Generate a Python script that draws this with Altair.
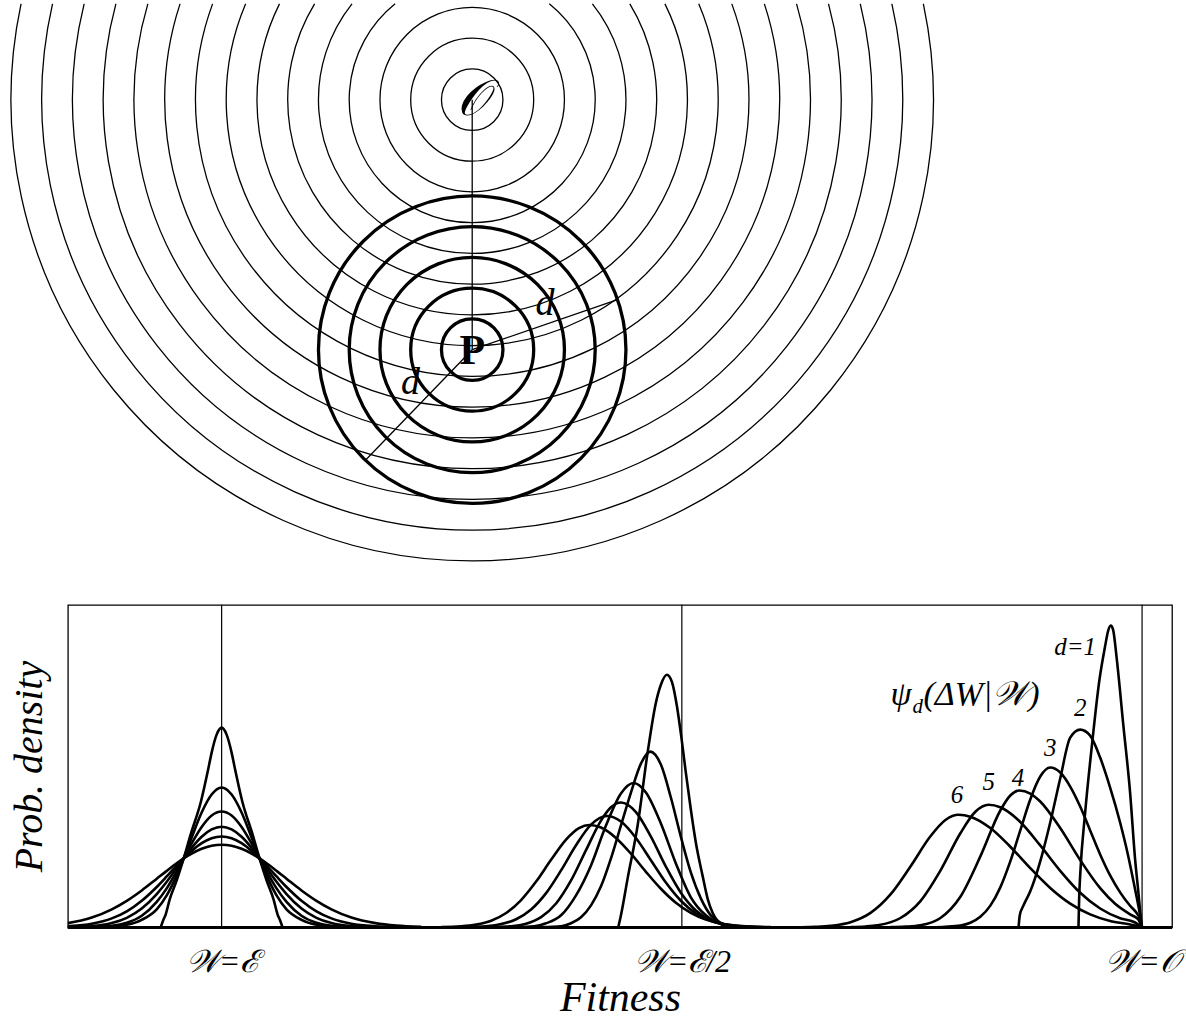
import altair as alt
import pandas as pd

# ---------------- top diagram data (units = one mutational step) ----------------
O_RING_LEVELS = list(range(1, 16))      # thin contours around the optimum O
P_RING_LEVELS = list(range(1, 6))       # thick circles of mutational distance d around P
O_POS = [0.0, 0.0]
P_POS = [0.0, -8.13]
D_LINE_ANGLES = [19, 226]               # degrees, the two "d" radii
D_LINE_LENGTH = 5
D_LABEL_X = [2.37, -2.01]
D_LABEL_Y = [-6.64, -9.20]

# ---------------- bottom chart data (fitness units; W=E at 0, W=E/2 at 461, W=O at 922) ----------------
TICK_VALUES = [0, 461, 922]
TICK_LABELS = ["𝒲=ℰ", "𝒲=ℰ/2", "𝒲=𝒪"]

# group W=E (symmetric)
E_d1_x = [-61, -58.5, -56, -52, -45, -38, -31, -20.7, -13.3, -10, -5, 0, 5, 10, 13.3, 20.7, 31, 38, 45, 52, 56, 58.5, 61]
E_d1_h = [0, 7, 13, 28, 47, 69, 93, 126, 159, 175, 193, 200, 193, 175, 159, 126, 93, 69, 47, 28, 13, 7, 0]
E_x = [-200, -175, -154, -130, -110, -95, -80, -65, -55, -45, -38, -30, -20, -10, 0,
       10, 20, 30, 38, 45, 55, 65, 80, 95, 110, 130, 154, 175, 200]
E_d2_h = [0, 0, 0, 0.2, 0.8, 2.5, 7.5, 18, 32, 52, 69, 90, 115, 133, 140, 133, 115, 90, 69, 52, 32, 18, 7.5, 2.5, 0.8, 0.2, 0, 0, 0]
E_d3_h = [0, 0, 0.1, 0.4, 1.5, 4.5, 11.6, 25.5, 39, 56, 69, 84, 100.5, 112, 116, 112, 100.5, 84, 69, 56, 39, 25.5, 11.6, 4.5, 1.5, 0.4, 0.1, 0, 0]
E_d4_h = [0, 0, 0.2, 1.2, 4.2, 9.5, 18.8, 33.3, 45.6, 59.3, 69, 79.6, 90.7, 98, 100.7, 98, 90.7, 79.6, 69, 59.3, 45.6, 33.3, 18.8, 9.5, 4.2, 1.2, 0.2, 0, 0]
E_d5_h = [0, 0.3, 1, 3.5, 8.9, 16, 26.6, 40.4, 50.9, 61.7, 69, 76.5, 84.3, 89.3, 91, 89.3, 84.3, 76.5, 69, 61.7, 50.9, 40.4, 26.6, 16, 8.9, 3.5, 1, 0.3, 0]
E_d6_h = [0.5, 1.7, 4.2, 9.8, 18, 26.5, 36.9, 48.6, 56.5, 64.1, 69, 73.8, 78.6, 81.7, 82.7, 81.7, 78.6, 73.8, 69, 64.1, 56.5, 48.6, 36.9, 26.5, 18, 9.8, 4.2, 1.7, 0.5]

# group W=E/2 (skewed)
H_d1_x = [397.3, 400, 406.7, 416.7, 426.7, 435, 440, 446, 451, 456, 460.7, 465, 470, 475, 481.7, 487, 492, 498, 505, 515]
H_d1_h = [0, 12, 49, 102, 175, 225, 243, 253, 246, 222, 189, 155, 118, 85, 52, 28, 14, 5, 1, 0]
H_d2_x = [300, 320, 340, 350, 360, 370, 380, 390, 400, 410, 420, 429.3, 440, 450, 460.7, 470, 480, 490, 500, 510, 525, 545]
H_d2_h = [0, 0.2, 1, 4, 10, 22, 41, 69, 102, 135, 164, 176, 163, 130, 88, 55, 29, 12, 4.5, 1.5, 0.3, 0]
H_d3_x = [275, 295, 313, 325, 340, 355, 370, 385, 400, 412.7, 425, 440, 455, 470, 485, 500, 515, 530, 545]
H_d3_h = [0, 0.2, 1, 4, 12, 32, 62, 102, 134, 144.5, 135, 104, 64, 30, 12, 3.5, 0.8, 0.1, 0]
H_d4_x = [250, 270, 290, 305, 320, 335, 350, 365, 380, 390, 400, 415, 430, 445, 460, 475, 490, 505, 520, 540]
H_d4_h = [0, 0.3, 1.1, 3.6, 10.2, 23.8, 46.9, 77.3, 106.9, 120.2, 125, 115.4, 90.8, 60.8, 34.7, 16.9, 7, 2.5, 0.7, 0.1]
H_d5_x = [230, 250, 267, 280, 295, 310, 325, 340, 355, 370, 386, 400, 415, 430, 445, 460, 475, 490, 505, 525, 545]
H_d5_h = [0.1, 0.4, 1.2, 3.2, 8.1, 17.8, 34.2, 57, 82.2, 102.8, 111.5, 105.9, 89.5, 67.2, 44.8, 26.6, 14, 6.6, 2.7, 0.7, 0.1]
H_d6_x = [220, 240, 255, 270, 285, 300, 315, 330, 345, 358, 368.3, 380, 395, 410, 425, 440, 455, 470, 485, 500, 515, 530, 550]
H_d6_h = [0.3, 1, 2.7, 6.6, 14.3, 27.3, 45.8, 67.6, 87.9, 99.4, 102.5, 99.9, 89.5, 73.7, 55.6, 38.6, 24.6, 14.4, 7.7, 3.8, 1.7, 0.7, 0.2]

# group W=O (truncated at the optimum)
O_d1_x = [858.3, 859, 860, 865, 871.7, 879.3, 885, 888, 890.7, 893, 896.7, 903.3, 910, 915, 918.3, 920.5, 921.7, 922]
O_d1_h = [0, 30, 52, 115, 181.7, 248, 281.7, 297, 302.3, 298, 268.3, 201.7, 135, 68.3, 35, 12, 1.5, 0]
O_d2_x = [798.3, 799.5, 803.3, 810, 820, 830, 840, 850, 860, 870, 880, 890, 900, 908, 913, 917, 920, 922]
O_d2_h = [0, 12, 22, 36, 66, 105, 149, 190, 198, 192, 170, 140, 105, 72, 48, 28, 12, 0]
O_d3_x = [710, 725, 740, 750, 760, 770, 780, 790, 800, 810, 820, 830, 840, 850, 860, 870, 880, 890, 900, 910, 916, 920, 922]
O_d3_h = [0.1, 0.6, 1.8, 4.6, 10.5, 21.7, 40, 66, 97, 128, 151, 160, 155, 141, 121, 97, 73, 52, 35, 21.6, 15, 8, 0]
O_d4_x = [670, 685, 700, 720, 740, 760, 780, 790, 799, 810, 820, 840, 860, 880, 895, 910, 918, 922]
O_d4_h = [0.2, 0.7, 2, 9.3, 30.6, 71, 117, 132, 137, 134, 126, 99.4, 67.4, 39.2, 23.6, 13, 8, 0]
O_d5_x = [630, 645, 656.7, 680, 700, 720, 740, 755, 768.3, 780, 800, 820, 840, 860, 880, 900, 915, 922]
O_d5_h = [0.2, 0.8, 2, 9.3, 26.3, 56.8, 94.2, 115.7, 122.7, 120.2, 105.5, 82, 56.6, 34.6, 18.8, 9, 4.8, 0]
O_d6_x = [580, 595, 610, 630, 650, 670, 690, 710, 725, 738.3, 750, 770, 790, 810, 830, 850, 870, 890, 910, 922]
O_d6_h = [0.1, 0.5, 1.5, 5.1, 14.4, 32.9, 60.9, 91.2, 107.5, 112.7, 110.8, 99.4, 80.7, 59.3, 39.4, 23.7, 12.9, 6.3, 2.8, 0]

# annotations in the W=O group
ANNOT_TEXT = ["d=1", "2", "3", "4", "5", "6"]
ANNOT_X = [855, 860, 830, 797.7, 768.3, 736.7]
ANNOT_Y = [281, 220, 180, 149.3, 145.7, 132.7]
PSI_TEXT = ["ψ", "d", "(ΔW|𝒲)"]
PSI_X = [670, 692, 703]
PSI_Y = [223, 215, 223]
PSI_SIZE = [34, 21, 34]

# ---------------- build tables ----------------
series = [
    ("E", 1, E_d1_x, E_d1_h), ("E", 2, E_x, E_d2_h), ("E", 3, E_x, E_d3_h),
    ("E", 4, E_x, E_d4_h), ("E", 5, E_x, E_d5_h), ("E", 6, E_x, E_d6_h),
    ("H", 1, H_d1_x, H_d1_h), ("H", 2, H_d2_x, H_d2_h), ("H", 3, H_d3_x, H_d3_h),
    ("H", 4, H_d4_x, H_d4_h), ("H", 5, H_d5_x, H_d5_h), ("H", 6, H_d6_x, H_d6_h),
    ("O", 1, O_d1_x, O_d1_h), ("O", 2, O_d2_x, O_d2_h), ("O", 3, O_d3_x, O_d3_h),
    ("O", 4, O_d4_x, O_d4_h), ("O", 5, O_d5_x, O_d5_h), ("O", 6, O_d6_x, O_d6_h),
]
rows = []
for g, d, xs, hs in series:
    for i, (xv, hv) in enumerate(zip(xs, hs)):
        rows.append({"key": f"{g}{d}", "i": i, "x": xv, "h": hv})
curves = pd.DataFrame(rows)

rings = pd.DataFrame(
    [{"cx": O_POS[0], "cy": O_POS[1], "r": k, "kind": "O"} for k in O_RING_LEVELS]
    + [{"cx": P_POS[0], "cy": P_POS[1], "r": k, "kind": "P"} for k in P_RING_LEVELS]
)
dlines = pd.DataFrame({"ang": D_LINE_ANGLES, "px": P_POS[0], "py": P_POS[1], "len": D_LINE_LENGTH})
axis_line = pd.DataFrame({"x": [O_POS[0]], "y": [O_POS[1]], "x2": [P_POS[0]], "y2": [P_POS[1]]})
centers = pd.DataFrame({"x": [O_POS[0], P_POS[0]], "y": [O_POS[1], P_POS[1]], "t": ["𝒪", "P"]})
dlabels = pd.DataFrame({"x": D_LABEL_X, "y": D_LABEL_Y, "t": ["d", "d"]})
anchors = pd.DataFrame({"a": TICK_VALUES})
annot = pd.DataFrame({"t": ANNOT_TEXT, "x": ANNOT_X, "y": ANNOT_Y})
psi = pd.DataFrame({"t": PSI_TEXT, "x": PSI_X, "y": PSI_Y, "s": PSI_SIZE})

# ---------------- layout constants ----------------
SERIF = "Liberation Serif"
LEFT = 66                      # left edge of the lower plot area
SP = 30.8                      # pixels per step in the diagram
TOP_W, TOP_H = 1186 - LEFT, 580
O_PX, O_PY = 471 - LEFT, 96.0  # O inside the top panel
y_top_max = O_PY / SP
xs_top = alt.Scale(domain=[-O_PX / SP, (TOP_W - O_PX) / SP], nice=False, zero=False)
ys_top = alt.Scale(domain=[(O_PY - TOP_H) / SP, y_top_max], nice=False, zero=False)

# ---------------- top diagram ----------------
def ring_layer(kind, width):
    return alt.Chart(rings).transform_filter(f"datum.kind == '{kind}'").transform_calculate(
        rpx=f"datum.r * {SP}",
        gap=f"({y_top_max} - datum.cy) * {SP}",
    ).transform_calculate(
        t1="datum.rpx > datum.gap ? acos(datum.gap / datum.rpx) : 0",
    ).transform_calculate(
        t2="2 * PI - datum.t1",
    ).mark_arc(filled=False, stroke="black", strokeWidth=width).encode(
        x=alt.X("cx:Q", scale=xs_top, axis=None),
        y=alt.Y("cy:Q", scale=ys_top, axis=None),
        theta=alt.Theta("t1:Q", scale=None, stack=None),
        theta2="t2:Q",
        radius=alt.Radius("rpx:Q", scale=None, stack=None),
        radius2="rpx:Q",
    )

thin = ring_layer("O", 1.3)
thick = ring_layer("P", 3.3)
vline = alt.Chart(axis_line).mark_rule(color="black", strokeWidth=1.3).encode(
    x=alt.X("x:Q", scale=xs_top, axis=None), y=alt.Y("y:Q", scale=ys_top, axis=None),
    x2="x2:Q", y2="y2:Q")
dl = alt.Chart(dlines).transform_calculate(
    ex="datum.px + datum.len * cos(datum.ang * PI / 180)",
    ey="datum.py + datum.len * sin(datum.ang * PI / 180)",
).mark_rule(color="black", strokeWidth=1.3).encode(
    x=alt.X("px:Q", scale=xs_top, axis=None), y=alt.Y("py:Q", scale=ys_top, axis=None),
    x2="ex:Q", y2="ey:Q")
txtO = alt.Chart(centers).transform_filter("datum.t != 'P'").mark_text(
    font=SERIF, fontStyle="italic", fontSize=50, color="black", baseline="middle", align="center"
).encode(x=alt.X("x:Q", scale=xs_top, axis=None), y=alt.Y("y:Q", scale=ys_top, axis=None), text="t:N")
txtP = alt.Chart(centers).transform_filter("datum.t == 'P'").mark_text(
    font=SERIF, fontWeight="bold", fontSize=42, color="black", baseline="middle", align="center", dy=1
).encode(x=alt.X("x:Q", scale=xs_top, axis=None), y=alt.Y("y:Q", scale=ys_top, axis=None), text="t:N")
txtd = alt.Chart(dlabels).mark_text(
    font=SERIF, fontStyle="italic", fontSize=38, color="black", baseline="middle", align="center"
).encode(x=alt.X("x:Q", scale=xs_top, axis=None), y=alt.Y("y:Q", scale=ys_top, axis=None), text="t:N")

top = alt.layer(thin, thick, vline, dl, txtO, txtP, txtd).properties(
    width=TOP_W, height=TOP_H, view=alt.ViewBackground(strokeOpacity=0))

# ---------------- bottom chart ----------------
xs_b = alt.Scale(domain=[-154, 952], nice=False, zero=False)
ys_b = alt.Scale(domain=[0, 323], nice=False, zero=False)
label_expr = " : ".join(
    f"datum.value == {v} ? '{t}'" for v, t in zip(TICK_VALUES[:-1], TICK_LABELS[:-1])
) + f" : '{TICK_LABELS[-1]}'"

x_axis = alt.Axis(values=TICK_VALUES, labelExpr=label_expr, ticks=False, domain=False, grid=False,
                  labelFont=SERIF, labelFontStyle="italic", labelFontSize=32, labelColor="black",
                  labelPadding=19, labelFlush=False, labelOverlap=False,
                  title="Fitness", titleFont=SERIF, titleFontStyle="italic", titleFontWeight="normal",
                  titleFontSize=42, titleColor="black", titlePadding=0)
y_axis = alt.Axis(labels=False, ticks=False, domain=False, grid=False,
                  title="Prob. density", titleFont=SERIF, titleFontStyle="italic", titleFontWeight="normal",
                  titleFontSize=40, titleColor="black", titlePadding=18)

lines = alt.Chart(curves).mark_line(color="black", strokeWidth=2.6, interpolate="monotone", clip=True).encode(
    x=alt.X("x:Q", scale=xs_b, axis=x_axis),
    y=alt.Y("h:Q", scale=ys_b, axis=y_axis),
    detail="key:N", order="i:Q")
anchor_rules = alt.Chart(anchors).mark_rule(color="black", strokeWidth=1.2).encode(x=alt.X("a:Q", scale=xs_b))
base_rule = alt.Chart(anchors).mark_rule(color="black", strokeWidth=2.8).encode(y=alt.datum(0))
ann = alt.Chart(annot).mark_text(font=SERIF, fontStyle="italic", fontSize=25, color="black",
                                 align="center", baseline="middle").encode(
    x=alt.X("x:Q", scale=xs_b), y=alt.Y("y:Q", scale=ys_b), text="t:N")
psi_txt = alt.Chart(psi).mark_text(font=SERIF, fontStyle="italic", color="black",
                                   align="left", baseline="alphabetic").encode(
    x=alt.X("x:Q", scale=xs_b), y=alt.Y("y:Q", scale=ys_b), text="t:N",
    size=alt.Size("s:Q", scale=None))

bottom = alt.layer(anchor_rules, lines, base_rule, ann, psi_txt).properties(
    width=1106, height=323, view=alt.ViewBackground(stroke="black", strokeWidth=1.3))

chart = alt.vconcat(top, bottom, spacing=20).properties(
    padding={"left": 8, "top": 0, "right": 0, "bottom": 0}, background="white")
chart.save("out.html", embed_options={"renderer": "svg", "actions": False})
